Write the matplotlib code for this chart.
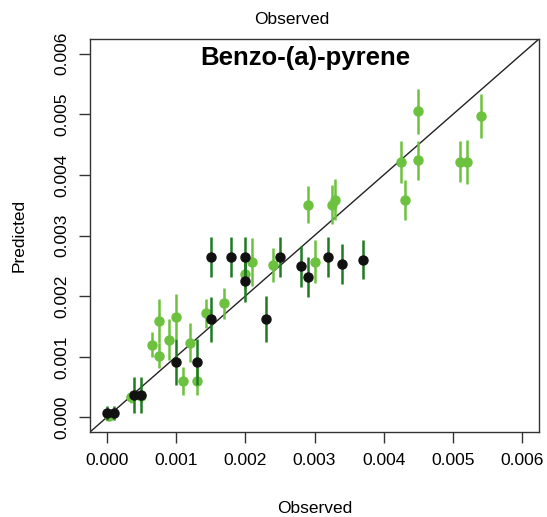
import matplotlib
from matplotlib import pyplot as plt
import numpy as np

matplotlib.use("Agg")

plt.rcParams["font.family"] = ["Liberation Sans", "DejaVu Sans"]

# light green series
obs_a = [0.00003, 0.00035, 0.0005, 0.00065, 0.00075, 0.00075, 0.0009, 0.001, 0.0011,
         0.0012, 0.0013, 0.00144, 0.0017, 0.002, 0.0021, 0.0024, 0.0029, 0.003,
         0.00325, 0.0033, 0.00425, 0.0043, 0.0045, 0.0045, 0.0051, 0.0052, 0.0054]
pred_a = [0.00003, 0.00034, 0.00036, 0.0012, 0.00159, 0.00102, 0.00128, 0.00166, 0.0006,
          0.00123, 0.0006, 0.00172, 0.00188, 0.00237, 0.00256, 0.00252, 0.00351, 0.00257,
          0.00351, 0.00359, 0.00421, 0.00359, 0.00505, 0.00424, 0.00422, 0.00421, 0.00497]
err_a = [0.00008, 0.0001, 0.0001, 0.00021, 0.00037, 0.0002, 0.00034, 0.00037, 0.00023,
         0.00032, 0.00023, 0.00024, 0.00025, 0.00025, 0.0004, 0.00028, 0.00031, 0.00036,
         0.00032, 0.00034, 0.00034, 0.00033, 0.00037, 0.00032, 0.00033, 0.00036, 0.00036]

# black points with dark green bars
obs_b = [0.0, 0.0001, 0.0004, 0.0005, 0.001, 0.0013, 0.0015, 0.0015, 0.0018, 0.002,
         0.002, 0.0023, 0.0025, 0.0028, 0.0029, 0.0032, 0.0034, 0.0037]
pred_b = [0.00007, 0.00007, 0.00037, 0.00037, 0.00091, 0.00091, 0.00265, 0.00162, 0.00265,
          0.00265, 0.00225, 0.00162, 0.00265, 0.00249, 0.00232, 0.00264, 0.00253, 0.0026]
err_b = [0.00012, 0.00012, 0.0003, 0.0003, 0.00038, 0.00038, 0.00033, 0.00037, 0.00033,
         0.00033, 0.00035, 0.00038, 0.00033, 0.00034, 0.00033, 0.00033, 0.00033, 0.00032]

ticks = [0.0, 0.001, 0.002, 0.003, 0.004, 0.005, 0.006]

fig = plt.figure(figsize=(5.47, 5.17), dpi=100)
ax = fig.add_axes([90/547, 1-432/517, 449/547, 393/517])

lim = (-0.00024, 0.00624)
ax.set_xlim(lim)
ax.set_ylim(lim)

ax.axline((0, 0), slope=1, color="#222222", lw=1, zorder=1)

ax.errorbar(obs_a, pred_a, yerr=err_a, fmt="o", ms=6.5, color="#6cc23f",
            ecolor="#6cc23f", elinewidth=1.8, capsize=0, zorder=2)
ax.errorbar(obs_b, pred_b, yerr=err_b, fmt="o", ms=6.5, color="#111111",
            ecolor="#1f7a22", elinewidth=1.8, capsize=0, zorder=3)

ax.set_xticks(ticks)
ax.set_yticks(ticks)
ax.set_xticklabels([f"{t:.3f}" for t in ticks], fontsize=12.5)
ax.set_yticklabels([f"{t:.3f}" for t in ticks], fontsize=12.5, rotation=90, va="center")
ax.tick_params(direction="out", length=8, width=1, color="#333333", pad=7)
for s in ax.spines.values():
    s.set_color("#333333")
    s.set_linewidth(1)

ax.set_xlabel("Observed", fontsize=12.5, labelpad=24)
ax.set_ylabel("Predicted", fontsize=12.5, labelpad=20)

fig.text(292/547, 1-20/517, "Observed", fontsize=12.5, ha="center", va="center")
fig.text(305/547, 1-58/517, "Benzo-(a)-pyrene", fontsize=18.5, fontweight="bold",
         ha="center", va="center")

plt.savefig("out.png", dpi=100)
plt.close(fig)
